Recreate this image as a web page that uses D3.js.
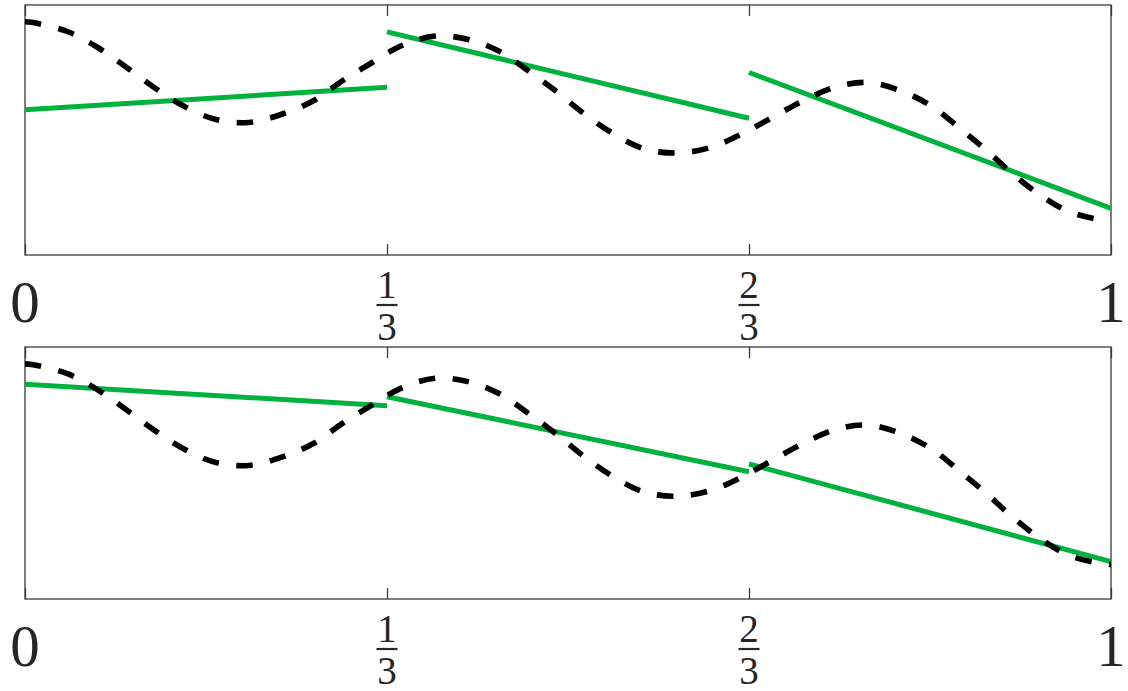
<!DOCTYPE html>
<html>
<head>
<meta charset="utf-8">
<script src="https://cdn.jsdelivr.net/npm/d3@7"></script>
<style>
  html, body { margin: 0; padding: 0; background: #fff; }
  svg { display: block; }
</style>
</head>
<body>
<script>
// Target function sampled on [0, 1]
const curveX = [0, 0.006, 0.039, 0.067, 0.093, 0.119, 0.146, 0.175, 0.206, 0.237,
  0.266, 0.292, 0.319, 0.346, 0.378, 0.409, 0.438, 0.465, 0.490, 0.514,
  0.540, 0.569, 0.600, 0.631, 0.660, 0.688, 0.716, 0.746, 0.776, 0.807,
  0.836, 0.861, 0.885, 0.908, 0.934, 0.961, 0.992, 1];
const curveY = [2.166, 2.154, 1.97, 1.65, 1.26, 0.85, 0.48, 0.214, 0.15, 0.32,
  0.59, 0.98, 1.34, 1.68, 1.88, 1.806, 1.56, 1.16, 0.76, 0.34,
  -0.05, -0.37, -0.46, -0.35, -0.08, 0.25, 0.58, 0.86, 0.95, 0.78,
  0.46, 0.03, -0.40, -0.85, -1.29, -1.63, -1.80, -1.814];

// Piecewise linear approximations on three elements
const elementBreaks = [0, 1/3, 2/3, 1];
const topFitStart = [0.406, 1.963, 1.15];
const topFitEnd = [0.854, 0.236, -1.566];
const bottomFitStart = [1.76, 1.514, 0.179];
const bottomFitEnd = [1.335, 0.026, -1.76];

// Axis ticks and their labels
const tickValues = [0, 1/3, 2/3, 1];
const tickNumerators = ["0", "1", "2", "1"];
const tickDenominators = ["", "3", "3", ""];

const W = 1128, H = 691;
const svg = d3.select("body").append("svg").attr("width", W).attr("height", H);

const x = d3.scaleLinear().domain([0, 1]).range([25, 1111]);
const yDomain = [-2.5, 2.5];

const panels = [
  { top: 5, bottom: 255, start: topFitStart, end: topFitEnd },
  { top: 347, bottom: 599, start: bottomFitStart, end: bottomFitEnd }
];

const axisColor = "#3a3a3a";
const textColor = "#262626";
const green = "#00b140";
const serif = "'Liberation Serif', 'DejaVu Serif', serif";

panels.forEach(p => {
  const y = d3.scaleLinear().domain(yDomain).range([p.bottom, p.top]);
  const g = svg.append("g");

  // frame
  g.append("rect")
    .attr("x", x(0)).attr("y", p.top)
    .attr("width", x(1) - x(0)).attr("height", p.bottom - p.top)
    .attr("fill", "none").attr("stroke", axisColor).attr("stroke-width", 1.3);

  // inward ticks on bottom and top edges
  const axB = g.append("g").attr("transform", `translate(0,${p.bottom})`)
    .call(d3.axisBottom(x).tickValues(tickValues).tickSize(-11).tickFormat(""));
  const axT = g.append("g").attr("transform", `translate(0,${p.top})`)
    .call(d3.axisTop(x).tickValues(tickValues).tickSize(-11).tickFormat(""));
  [axB, axT].forEach(a => {
    a.select(".domain").remove();
    a.selectAll(".tick line").attr("stroke", axisColor).attr("stroke-width", 1.3);
  });

  // linear pieces
  const pieces = d3.range(3).map(i => [
    [elementBreaks[i], p.start[i]],
    [elementBreaks[i + 1], p.end[i]]
  ]);
  g.selectAll("line.fit").data(pieces).enter().append("line")
    .attr("class", "fit")
    .attr("x1", d => x(d[0][0])).attr("y1", d => y(d[0][1]))
    .attr("x2", d => x(d[1][0])).attr("y2", d => y(d[1][1]))
    .attr("stroke", green).attr("stroke-width", 5);

  // dashed target function
  const line = d3.line()
    .x((d, i) => x(curveX[i]))
    .y(d => y(d))
    .curve(d3.curveCatmullRom.alpha(0.5));
  g.append("path")
    .attr("d", line(curveY))
    .attr("fill", "none").attr("stroke", "#000")
    .attr("stroke-width", 5.6).attr("stroke-dasharray", "16.5,17.5");

  // tick labels
  tickValues.forEach((v, i) => {
    const cx = x(v);
    if (!tickDenominators[i]) {
      g.append("text").attr("x", cx).attr("y", p.bottom + 67)
        .attr("text-anchor", "middle").attr("font-family", serif)
        .attr("font-size", 59).attr("fill", textColor)
        .text(tickNumerators[i]);
    } else {
      g.append("text").attr("x", cx).attr("y", p.bottom + 43)
        .attr("text-anchor", "middle").attr("font-family", serif)
        .attr("font-size", 39).attr("fill", textColor)
        .text(tickNumerators[i]);
      g.append("line")
        .attr("x1", cx - 10.5).attr("x2", cx + 10.5)
        .attr("y1", p.bottom + 50).attr("y2", p.bottom + 50)
        .attr("stroke", textColor).attr("stroke-width", 2.2);
      g.append("text").attr("x", cx).attr("y", p.bottom + 85)
        .attr("text-anchor", "middle").attr("font-family", serif)
        .attr("font-size", 39).attr("fill", textColor)
        .text(tickDenominators[i]);
    }
  });
});
</script>
</body>
</html>
